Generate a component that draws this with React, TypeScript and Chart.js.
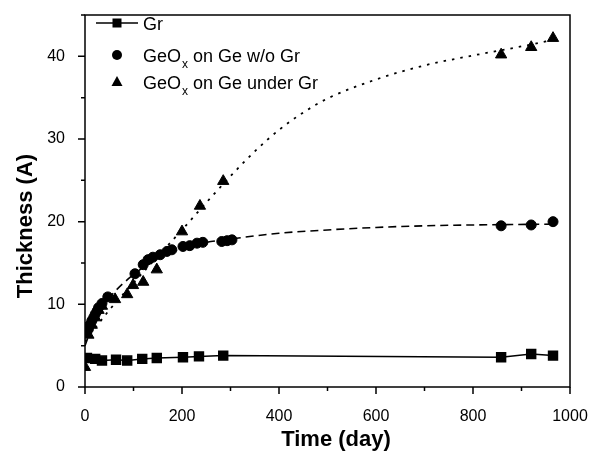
import React, { useEffect, useRef } from 'react';
import { Chart, registerables } from 'chart.js';
Chart.register(...registerables);

const grDays = [4, 21, 35, 64, 87, 118, 148, 202, 235, 285, 858, 920, 965];
const grThickness = [3.5, 3.4, 3.2, 3.3, 3.2, 3.4, 3.5, 3.6, 3.7, 3.8, 3.6, 4.0, 3.8];

const woGrDays = [3, 7, 10, 14, 18, 21, 25, 28, 35, 47, 103, 120, 130, 140, 155, 169, 179, 202, 216, 231, 243, 282, 293, 303, 858, 920, 965];
const woGrThickness = [6.6, 7.0, 7.5, 8.0, 8.4, 8.8, 9.2, 9.6, 10.1, 10.9, 13.7, 14.8, 15.4, 15.7, 16.0, 16.4, 16.6, 17.0, 17.1, 17.4, 17.5, 17.6, 17.7, 17.8, 19.5, 19.6, 20.0];

const underGrDays = [0, 7, 14, 21, 28, 35, 62, 87, 99, 120, 148, 200, 237, 285, 858, 920, 965];
const underGrThickness = [2.4, 6.3, 7.5, 8.4, 9.3, 9.8, 10.6, 11.2, 12.3, 12.7, 14.2, 18.8, 21.9, 24.9, 40.2, 41.1, 42.2];

const woGrFitDays = [0, 25, 50, 100, 150, 200, 250, 300, 400, 500, 600, 700, 800, 965];
const woGrFitThickness = [5.0, 8.8, 10.8, 13.6, 15.5, 16.8, 17.5, 17.9, 18.6, 19.0, 19.3, 19.5, 19.6, 19.7];

const underGrFitDays = [0, 50, 100, 150, 200, 250, 300, 350, 400, 450, 500, 600, 700, 800, 900, 965];
const underGrFitThickness = [5.5, 9.3, 12.6, 15.8, 19.0, 22.3, 25.5, 28.5, 31.1, 33.2, 34.9, 37.2, 38.9, 40.1, 41.2, 42.0];

const xTickValues = [0, 200, 400, 600, 800, 1000];
const yTickValues = [0, 10, 20, 30, 40];
const xMinorValues = [100, 300, 500, 700, 900];
const yMinorValues = [5, 15, 25, 35, 45];

const legendLabels = [
  { main: 'Gr', sub: '', rest: '' },
  { main: 'GeO', sub: 'x', rest: ' on Ge w/o Gr' },
  { main: 'GeO', sub: 'x', rest: ' on Ge under Gr' },
];

const FONT = 'Arial, "Liberation Sans", sans-serif';

const pts = (xs: number[], ys: number[]) => xs.map((x, i) => ({ x, y: ys[i] }));

const decorPlugin = {
  id: 'decor',
  afterDraw(chart: any) {
    const ctx = chart.ctx;
    const { left, right, top, bottom } = chart.chartArea;
    const xs = chart.scales.x;
    const ys = chart.scales.y;
    ctx.save();
    ctx.strokeStyle = '#000';
    ctx.fillStyle = '#000';
    ctx.lineWidth = 1.5;
    ctx.strokeRect(left, top, right - left, bottom - top);
    ctx.beginPath();
    xTickValues.forEach((v) => {
      const p = xs.getPixelForValue(v);
      ctx.moveTo(p, bottom); ctx.lineTo(p, bottom + 7);
    });
    xMinorValues.forEach((v) => {
      const p = xs.getPixelForValue(v);
      ctx.moveTo(p, bottom); ctx.lineTo(p, bottom + 4);
    });
    yTickValues.forEach((v) => {
      const p = ys.getPixelForValue(v);
      ctx.moveTo(left, p); ctx.lineTo(left - 7, p);
    });
    yMinorValues.forEach((v) => {
      const p = ys.getPixelForValue(v);
      ctx.moveTo(left, p); ctx.lineTo(left - 4, p);
    });
    ctx.stroke();

    ctx.font = `bold 22px ${FONT}`;
    ctx.textAlign = 'center';
    ctx.textBaseline = 'middle';
    ctx.fillText('Time (day)', 336, 440);
    ctx.save();
    ctx.translate(26, 226);
    ctx.rotate(-Math.PI / 2);
    ctx.fillText('Thickness (A)', 0, 0);
    ctx.restore();

    const lx = left + 32;
    const rows = [top + 8, top + 40, top + 67];
    ctx.lineWidth = 1.5;
    ctx.beginPath();
    ctx.moveTo(left + 11, rows[0]); ctx.lineTo(left + 53, rows[0]);
    ctx.stroke();
    ctx.fillRect(lx - 4.5, rows[0] - 4.5, 9, 9);
    ctx.beginPath();
    ctx.arc(lx, rows[1], 5, 0, Math.PI * 2);
    ctx.fill();
    ctx.beginPath();
    ctx.moveTo(lx, rows[2] - 6);
    ctx.lineTo(lx + 5.5, rows[2] + 4);
    ctx.lineTo(lx - 5.5, rows[2] + 4);
    ctx.closePath();
    ctx.fill();

    ctx.textAlign = 'left';
    ctx.textBaseline = 'alphabetic';
    const tx = left + 58;
    legendLabels.forEach((lab, i) => {
      const base = rows[i] + 6.5;
      ctx.font = `18px ${FONT}`;
      let x = tx;
      ctx.fillText(lab.main, x, base);
      x += ctx.measureText(lab.main).width;
      if (lab.sub) {
        ctx.font = `12px ${FONT}`;
        ctx.fillText(lab.sub, x + 1, base + 6);
        x += ctx.measureText(lab.sub).width + 1;
        ctx.font = `18px ${FONT}`;
      }
      if (lab.rest) ctx.fillText(lab.rest, x, base);
    });
    ctx.restore();
  },
};

export default function App() {
  const ref = useRef<HTMLCanvasElement>(null);
  useEffect(() => {
    if (!ref.current) return;
    const chart = new Chart(ref.current, {
      type: 'scatter',
      data: {
        datasets: [
          {
            label: 'Gr',
            data: pts(grDays, grThickness),
            showLine: true,
            borderColor: '#000',
            borderWidth: 1.5,
            backgroundColor: '#000',
            pointStyle: 'rect',
            pointRadius: 6.3,
            tension: 0,
          },
          {
            label: 'GeOx on Ge w/o Gr',
            data: pts(woGrDays, woGrThickness),
            showLine: false,
            borderColor: '#000',
            backgroundColor: '#000',
            pointStyle: 'circle',
            pointRadius: 5,
          },
          {
            label: 'GeOx on Ge under Gr',
            data: pts(underGrDays, underGrThickness),
            showLine: false,
            borderColor: '#000',
            backgroundColor: '#000',
            pointStyle: 'triangle',
            pointRadius: 6.5,
          },
          {
            label: 'fit w/o Gr',
            data: pts(woGrFitDays, woGrFitThickness),
            showLine: true,
            borderColor: '#000',
            borderWidth: 1.6,
            borderDash: [8, 5],
            pointRadius: 0,
            cubicInterpolationMode: 'monotone',
          },
          {
            label: 'fit under Gr',
            data: pts(underGrFitDays, underGrFitThickness),
            showLine: true,
            borderColor: '#000',
            borderWidth: 1.8,
            borderDash: [2.5, 6],
            pointRadius: 0,
            cubicInterpolationMode: 'monotone',
          },
        ],
      },
      options: {
        animation: false,
        responsive: false,
        devicePixelRatio: 1,
        layout: { padding: { top: 15, right: 30, left: 0, bottom: 0 } },
        plugins: { legend: { display: false }, tooltip: { enabled: false } },
        scales: {
          x: {
            type: 'linear',
            min: 0,
            max: 1000,
            afterBuildTicks: (s: any) => { s.ticks = xTickValues.map((v) => ({ value: v })); },
            afterFit: (s: any) => { s.height = 68; s.paddingLeft = 0; s.paddingRight = 0; },
            ticks: { color: '#000', font: { size: 16, family: FONT }, padding: 12, maxRotation: 0, callback: (v: any) => String(v) },
            grid: { display: false },
            border: { display: false },
          },
          y: {
            type: 'linear',
            min: 0,
            max: 45,
            afterBuildTicks: (s: any) => { s.ticks = yTickValues.map((v) => ({ value: v })); },
            afterFit: (s: any) => { s.width = 85; s.paddingTop = 0; s.paddingBottom = 0; },
            ticks: { color: '#000', font: { size: 16, family: FONT }, padding: 12, callback: (v: any) => String(v) },
            grid: { display: false },
            border: { display: false },
          },
        },
      },
      plugins: [decorPlugin],
    } as any);
    return () => chart.destroy();
  }, []);
  return (
    <div style={{ position: 'absolute', left: 0, top: 0, width: 600, height: 455, background: '#fff' }}>
      <canvas ref={ref} width={600} height={455} />
    </div>
  );
}
